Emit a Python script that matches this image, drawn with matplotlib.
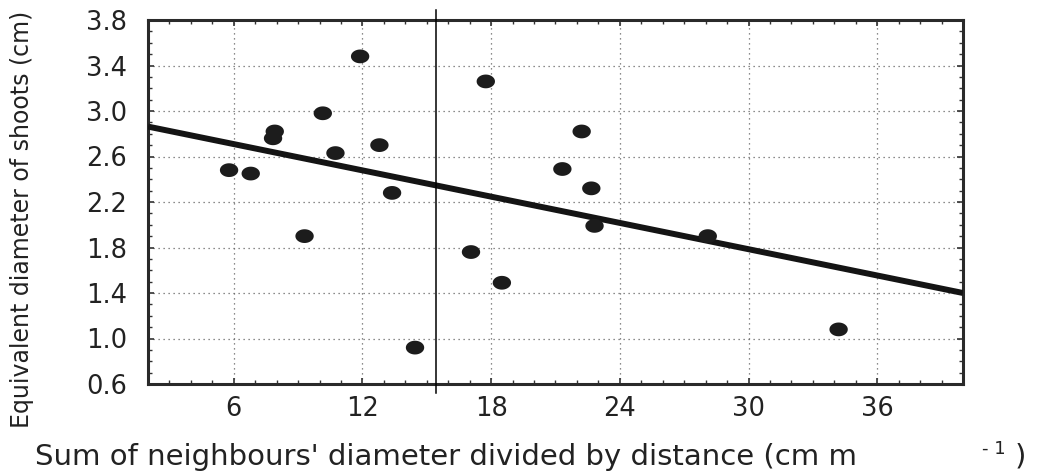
import matplotlib.pyplot as plt
import numpy as np
from matplotlib.ticker import MultipleLocator
from matplotlib.path import Path

# neighbour index (cm m-1) vs equivalent shoot diameter (cm)
x_vals = [5.78, 6.79, 7.83, 7.91, 9.30, 10.15, 10.74, 11.89, 12.79, 13.38,
          14.45, 17.06, 17.75, 18.5, 21.32, 22.22, 22.67, 22.82, 28.1, 34.2]
y_vals = [2.48, 2.45, 2.76, 2.82, 1.90, 2.98, 2.63, 3.48, 2.70, 2.28,
          0.92, 1.76, 3.26, 1.49, 2.49, 2.82, 2.32, 1.99, 1.90, 1.08]

# fitted regression line  y = a + b*x
fit_a = 2.94
fit_b = -0.0385
fit_x = [2, 40]
# thin vertical marker line
split_x = 15.43

x_ticks = [6, 12, 18, 24, 30, 36]
y_ticks = [0.6, 1.0, 1.4, 1.8, 2.2, 2.6, 3.0, 3.4, 3.8]

plt.rcParams['font.family'] = ['DejaVu Sans']

fig = plt.figure(figsize=(10.56, 4.76), dpi=100)
ax = fig.add_axes([148/1056, 1-384/476, (963-148)/1056, (384-20)/476])

# ellipse shaped marker, wider than tall
t = np.linspace(0, 2*np.pi, 40)
ell = Path(np.column_stack([np.cos(t), 0.75*np.sin(t)]), closed=True)

ax.grid(True, which='major', linestyle=(0, (1, 3)), color='#666666', linewidth=0.9)
ax.set_axisbelow(True)

fx = np.array(fit_x, dtype=float)
ax.plot(fx, fit_a + fit_b*fx, '-', color='#141414', linewidth=4.3, solid_capstyle='butt', zorder=3)
ax.scatter(x_vals, y_vals, marker=ell, s=175, color='#1c1c1c', edgecolors='none', zorder=4)
ax.axvline(split_x, ymin=-0.025, ymax=1.027, color='black', linewidth=1.1, clip_on=False, zorder=5)

ax.set_xlim(2, 40)
ax.set_ylim(0.6, 3.8)
ax.set_xticks(x_ticks)
ax.set_yticks(y_ticks)
ax.set_yticklabels(['%.1f' % v for v in y_ticks])
ax.xaxis.set_minor_locator(MultipleLocator(1))
ax.yaxis.set_minor_locator(MultipleLocator(0.1))
ax.tick_params(which='both', direction='in', top=True, right=True, color='#333333')
ax.tick_params(which='major', length=4, width=1.2, labelsize=18.5, colors='#333333', labelcolor='#222222')
ax.tick_params(axis='y', which='major', pad=15)
ax.tick_params(axis='x', which='major', pad=9)
ax.tick_params(which='minor', length=3, width=1)
for s in ax.spines.values():
    s.set_linewidth(2.2)
    s.set_color('#2a2a2a')

fig.text(22/1056, 1-219/476, 'Equivalent diameter of shoots (cm)', rotation=90,
         ha='center', va='center', fontsize=17, color='#222222')
fig.text(35/1056, 1-465/476, "Sum of neighbours' diameter divided by distance (cm m",
         ha='left', va='baseline', fontsize=21, color='#222222')
fig.text(982/1056, 1-454/476, '- 1', ha='left', va='baseline', fontsize=13, color='#222222')
fig.text(1015/1056, 1-465/476, ')', ha='left', va='baseline', fontsize=21, color='#222222')

fig.savefig('out.png', dpi=100)
